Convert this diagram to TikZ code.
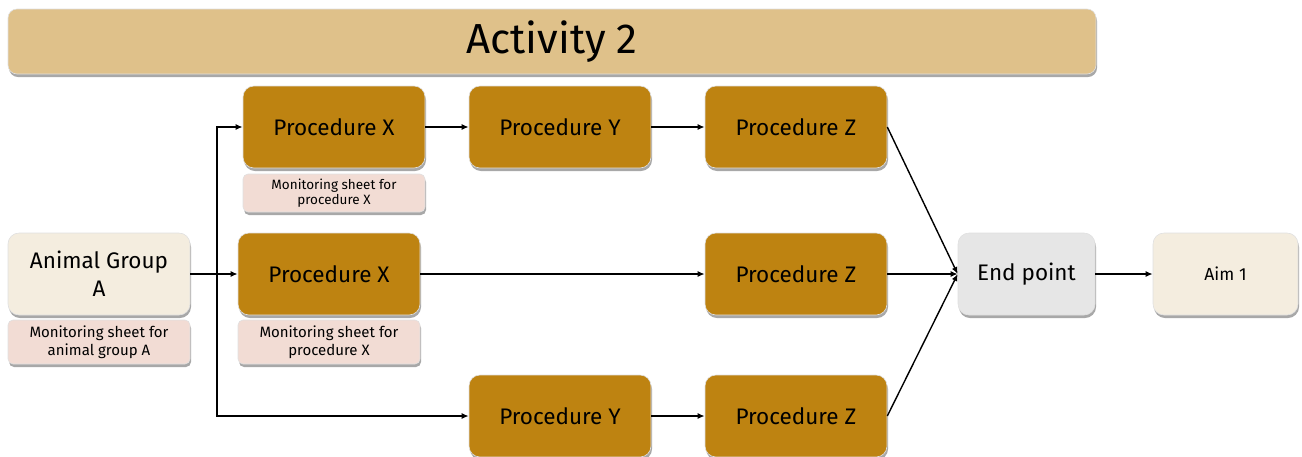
\documentclass[tikz,border=0pt]{standalone}
\usepackage{fontspec}
\setmainfont{Fira Sans}
\usetikzlibrary{arrows.meta,shadows}
\definecolor{titlec}{HTML}{DFC18A}
\definecolor{procc}{HTML}{BE8311}
\definecolor{creamc}{HTML}{F4EDDF}
\definecolor{pinkc}{HTML}{F2DCD4}
\definecolor{greyc}{HTML}{E6E6E6}
\tikzset{
  box/.style={rectangle, rounded corners=11pt, draw=black!12, line width=0.6pt,
    minimum width=182pt, minimum height=82pt, align=center, inner sep=2pt,
    drop shadow={shadow xshift=1pt, shadow yshift=-3pt, fill=black!38, opacity=0.9}},
  proc/.style={box, fill=procc, font=\fontsize{22.5}{26}\selectfont},
  sheet/.style={box, fill=pinkc, rounded corners=5pt, minimum height=44pt,
    font=\fontsize{15}{18}\selectfont},
  arr/.style={-{Latex[length=7pt,width=6pt]}, line width=1.4pt, black},
  ln/.style={line width=1.4pt, black}
}
\begin{document}
\begin{tikzpicture}[x=1pt,y=-1pt]
\useasboundingbox (0,0) rectangle (1302,456);
\node[box, fill=titlec, rounded corners=9pt, minimum width=1088pt, minimum height=65pt,
  font=\fontsize{42}{48}\selectfont] (title) at (552,41.5) {Activity 2};
\node[box, fill=creamc, font=\fontsize{22.5}{28}\selectfont] (ag) at (99,274) {Animal Group\\A};
\node[sheet] (agm) at (99,342) {Monitoring sheet for\\animal group A};
\node[proc] (px1) at (334,127) {Procedure X};
\node[sheet, minimum height=38pt, font=\fontsize{13.5}{15.5}\selectfont] (px1m) at (334,193) {Monitoring sheet for\\procedure X};
\node[proc] (py1) at (560,127) {Procedure Y};
\node[proc] (pz1) at (796,127) {Procedure Z};
\node[proc] (px2) at (329,274) {Procedure X};
\node[sheet] (px2m) at (329,342) {Monitoring sheet for\\procedure X};
\node[proc] (pz2) at (796,274) {Procedure Z};
\node[proc] (py3) at (560,416) {Procedure Y};
\node[proc] (pz3) at (796,416) {Procedure Z};
\node[box, fill=greyc, minimum width=137pt, font=\fontsize{22.5}{26}\selectfont] (ep) at (1026.5,274) {End point};
\node[box, fill=creamc, minimum width=145pt, font=\fontsize{17.5}{21}\selectfont] (aim) at (1225.5,274) {Aim 1};
\coordinate (j) at (217,274);
\draw[arr] (ag) -- (px2);
\draw[arr] (j) |- (px1);
\draw[arr] (j) |- (py3);
\draw[arr] (px1) -- (py1);
\draw[arr] (py1) -- (pz1);
\draw[arr] (px2) -- (pz2);
\draw[arr] (py3) -- (pz3);
\draw[arr] (pz1.east) -- (ep.west);
\draw[arr] (pz2.east) -- (ep.west);
\draw[arr] (pz3.east) -- (ep.west);
\draw[arr] (ep) -- (aim);
\end{tikzpicture}
\end{document}
